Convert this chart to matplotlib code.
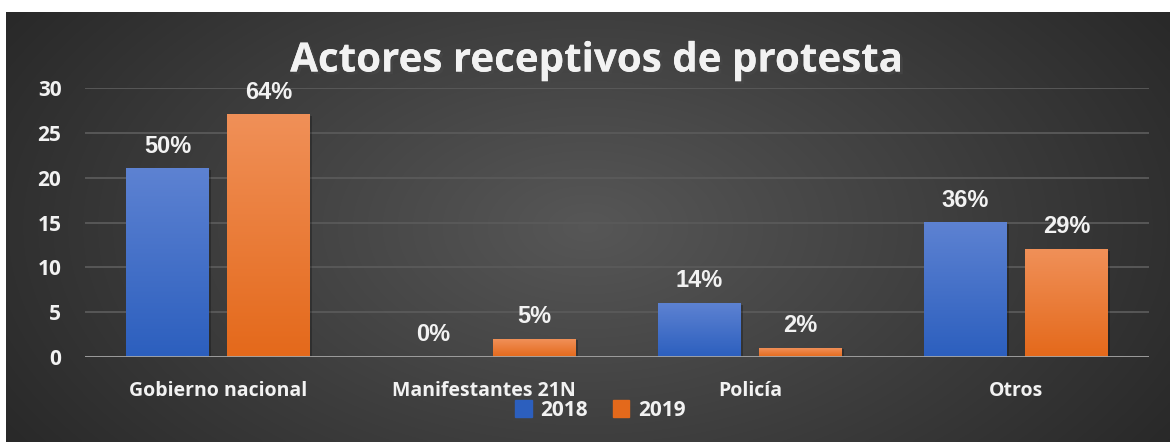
import numpy as np
import matplotlib.pyplot as plt
from matplotlib.patches import Rectangle
import matplotlib.patheffects as pe

categories = ['Gobierno nacional', 'Manifestantes 21N', 'Policía', 'Otros']
years = ['2018', '2019']
vals_2018 = [21, 0, 6, 15]
vals_2019 = [27, 2, 1, 12]
labels_2018 = ['50%', '0%', '14%', '36%']
labels_2019 = ['64%', '5%', '2%', '29%']
yticks = [0, 5, 10, 15, 20, 25, 30]

blue_top, blue_bot = '#5d82d2', '#2c5fbe'
orange_top, orange_bot = '#f09058', '#e4691b'
txt = '#f2f2f2'

fig = plt.figure(figsize=(11.7, 4.42), dpi=100)
fig.patch.set_facecolor('white')

# dark gradient background panel
bg = fig.add_axes([6 / 1170, 0, 1 - 6 / 1170, 1 - 12 / 442])
gx = np.linspace(-1, 1, 400)
gy = np.linspace(-1, 1, 200)
X, Y = np.meshgrid(gx, gy)
r = np.sqrt((X * 0.95) ** 2 + (Y * 0.6) ** 2)
shade = np.clip(0.34 - 0.16 * r, 0.14, 0.36)
bg.imshow(np.dstack([shade] * 3), aspect='auto', extent=[0, 1, 0, 1], interpolation='bilinear')
bg.set_axis_off()

ax = fig.add_axes([85 / 1170, 85 / 442, (1149 - 85) / 1170, (357 - 88) / 442])
ax.patch.set_alpha(0)

x = np.arange(len(categories))
w = 0.312
off = 0.19


def grad_bar(xc, h, ctop, cbot):
    if h <= 0:
        return
    c1 = np.array(plt.matplotlib.colors.to_rgb(ctop))
    c2 = np.array(plt.matplotlib.colors.to_rgb(cbot))
    t = np.linspace(0, 1, 100)[:, None]
    img = (c1 * (1 - t) + c2 * t)[:, None, :]
    # soft shadow
    ax.add_patch(Rectangle((xc - w / 2 + 0.008, -0.25), w, h + 0.1, color='black', alpha=0.25, zorder=2, lw=0))
    ax.imshow(img, aspect='auto', extent=[xc - w / 2, xc + w / 2, 0, h], zorder=3, interpolation='bilinear')


for i in range(len(categories)):
    grad_bar(x[i] - off, vals_2018[i], blue_top, blue_bot)
    grad_bar(x[i] + off, vals_2019[i], orange_top, orange_bot)
    ax.text(x[i] - off, vals_2018[i] + 2.5, labels_2018[i], ha='center', va='center',
            color=txt, fontsize=17, fontweight='bold', family='Liberation Sans', zorder=5)
    ax.text(x[i] + off, vals_2019[i] + 2.5, labels_2019[i], ha='center', va='center',
            color=txt, fontsize=17, fontweight='bold', family='Liberation Sans', zorder=5)

ax.set_xlim(-0.5, len(categories) - 0.5)
ax.set_ylim(0, 30)
ax.set_yticks(yticks)
ax.set_xticks(x)
ax.set_xticklabels(categories)
for s in ax.spines.values():
    s.set_visible(False)
ax.axhline(0, color='#a6a6a6', lw=2, zorder=4)
for yv in yticks[1:]:
    ax.axhline(yv, color='#5a5a5a', lw=1.3, zorder=1)
ax.tick_params(length=0, colors=txt)
ax.tick_params(axis='y', pad=17)
ax.tick_params(axis='x', pad=17)
for lab in ax.get_xticklabels():
    lab.set_fontproperties({'family': 'Open Sans', 'weight': 'bold', 'size': 14})
for lab in ax.get_yticklabels():
    lab.set_fontproperties({'family': 'Open Sans', 'weight': 'bold', 'size': 15})

fig.text(0.509, 0.862, 'Actores receptivos de protesta', ha='center', va='center',
         fontsize=29, fontweight='bold', family='Open Sans', color=txt,
         path_effects=[pe.withSimplePatchShadow(offset=(2, -2), alpha=0.6), pe.Normal()])

handles = [Rectangle((0, 0), 1, 1, color=blue_bot), Rectangle((0, 0), 1, 1, color=orange_bot)]
leg = fig.legend(handles, years, loc='center', bbox_to_anchor=(0.513, 0.072), ncol=2, frameon=False,
                 handlelength=0.8, handleheight=0.9, handletextpad=0.4, columnspacing=1.2,
                 prop={'family': 'Open Sans', 'weight': 'bold', 'size': 15})
for t in leg.get_texts():
    t.set_color(txt)

fig.savefig('out.png', dpi=100, facecolor='white')
